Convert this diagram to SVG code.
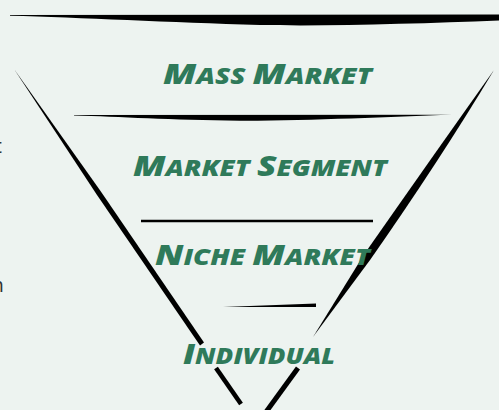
<svg xmlns="http://www.w3.org/2000/svg" width="499" height="410" viewBox="0 0 499 410">
<style>
.lbl{font-family:"Open Sans","Liberation Sans",sans-serif;font-weight:800;font-style:italic;fill:#2f7a5a}
.cap{font-size:29px}
.sc{font-size:22px}
.ink{fill:#000}
.seg{stroke:#000;fill:none;stroke-linecap:butt}
.cut{font-family:"Noto Sans",sans-serif;font-size:19px;fill:#333}
</style>
<rect width="499" height="410" fill="#edf3f0"/>
<g id="edge-text">
<text class="cut" x="-5" y="153">t</text>
<text class="cut" x="-8" y="292">n</text>
</g>
<g id="connectors">
<path class="ink" d="M10,15 L499,14.5 L499,20.5 C420,23.5 330,26.5 260,25 C170,22.5 80,17.5 10,15.8 Z"/>
<path class="ink" d="M74,115 L452,114.8 C390,116.5 310,121 240,120.8 C170,120.2 120,116.8 74,115.6 Z"/>
<line class="seg" x1="141" y1="221" x2="373" y2="221" stroke-width="2.6"/>
<path class="ink" d="M223,307 L316,303.4 L316,307 Z"/>
<path class="ink" d="M14,69 L100.7,191.3 L204,342.6 L200,345.4 L96.5,194.2 Z"/>
<line class="seg" x1="216" y1="368" x2="241" y2="404" stroke-width="4.6"/>
<path class="ink" d="M494,70 Q440,160 370.6,259.2 L313,337 L364,254.6 Q430,160 494,70 Z"/>
<line class="seg" x1="298" y1="368" x2="266" y2="412" stroke-width="5"/>
</g>
<g id="mass-market">
<text class="lbl" x="163" y="84" textLength="209" lengthAdjust="spacingAndGlyphs"><tspan class="cap">M</tspan><tspan class="sc">ASS </tspan><tspan class="cap">M</tspan><tspan class="sc">ARKET</tspan></text>
</g>
<g id="market-segment">
<text class="lbl" x="133" y="176" textLength="254" lengthAdjust="spacingAndGlyphs"><tspan class="cap">M</tspan><tspan class="sc">ARKET </tspan><tspan class="cap">S</tspan><tspan class="sc">EGMENT</tspan></text>
</g>
<g id="niche-market">
<text class="lbl" x="155" y="265" textLength="215" lengthAdjust="spacingAndGlyphs"><tspan class="cap">N</tspan><tspan class="sc">ICHE </tspan><tspan class="cap">M</tspan><tspan class="sc">ARKET</tspan></text>
</g>
<g id="individual">
<text class="lbl" x="183" y="364" textLength="152" lengthAdjust="spacingAndGlyphs"><tspan class="cap">I</tspan><tspan class="sc">NDIVIDUAL</tspan></text>
</g>
</svg>
